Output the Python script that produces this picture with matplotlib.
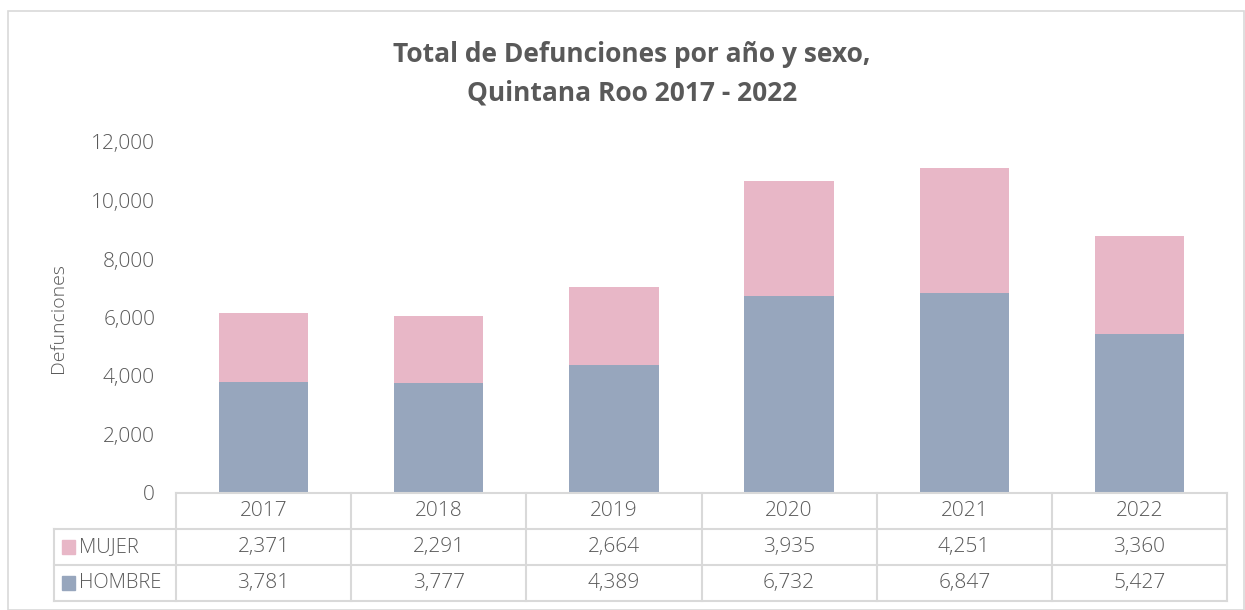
import matplotlib.pyplot as plt
from matplotlib.patches import Rectangle
from matplotlib.transforms import blended_transform_factory

years = ["2017", "2018", "2019", "2020", "2021", "2022"]
mujer = [2371, 2291, 2664, 3935, 4251, 3360]
hombre = [3781, 3777, 4389, 6732, 6847, 5427]
series = ["MUJER", "HOMBRE"]

c_mujer = "#E8B7C7"
c_hombre = "#97A6BD"
txt = "#595959"
line_c = "#D9D9D9"

plt.rcParams['font.family'] = ['Open Sans', 'DejaVu Sans']
fs = 15

W, H = 1245, 610
fig = plt.figure(figsize=(W / 100, H / 100), dpi=100)
# outer chart border
fig.patches.append(Rectangle((8 / W, 0), (W - 9) / W, (H - 11) / H, transform=fig.transFigure,
                             fill=False, edgecolor=line_c, lw=1.2))

left, right, top, bottom = 176, 1227, 142, 493
ax = fig.add_axes([left / W, 1 - bottom / H, (right - left) / W, (bottom - top) / H])

x = list(range(len(years)))
ax.bar(x, hombre, width=0.51, color=c_hombre)
ax.bar(x, mujer, bottom=hombre, width=0.51, color=c_mujer)

ax.set_xlim(-0.5, len(years) - 0.5)
ax.set_ylim(0, 12000)
ax.set_yticks(range(0, 12001, 2000))
ax.set_yticklabels([f"{v:,}" for v in range(0, 12001, 2000)], fontsize=fs, color=txt,
                   fontweight="light")
ax.tick_params(axis='y', length=0, pad=15)
ax.set_xticks([])
for s in ["top", "right", "left"]:
    ax.spines[s].set_visible(False)
ax.spines["bottom"].set_color(line_c)
ax.spines["bottom"].set_linewidth(1.5)

fig.text(58 / W, 1 - 318 / H, "Defunciones", rotation=90, ha="center", va="center",
         fontsize=14, color=txt, fontweight="light")

fig.text(632 / W, 1 - 55 / H, "Total de Defunciones por año y sexo,", ha="center", va="center",
         fontsize=19, fontweight="bold", color=txt)
fig.text(632 / W, 1 - 93 / H, "Quintana Roo 2017 - 2022", ha="center", va="center",
         fontsize=19, fontweight="bold", color=txt)

# data table under the chart
tr = blended_transform_factory(ax.transData, ax.transAxes)
row_h = 36 / (bottom - top)
leg_x = -0.5 - (left - 54) / ((right - left) / len(years))
n = len(years)
kw = dict(transform=tr, clip_on=False, color=line_c, lw=1.5)
for k in range(1, 4):
    y = -k * row_h
    ax.plot([leg_x, n - 0.5], [y, y], **kw)
for i in range(n + 1):
    ax.plot([i - 0.5, i - 0.5], [0, -3 * row_h], **kw)
ax.plot([leg_x, leg_x], [-row_h, -3 * row_h], **kw)

tkw = dict(transform=tr, ha="center", va="center", fontsize=fs, color=txt, fontweight="light")
for i, yr in enumerate(years):
    ax.text(i, -0.5 * row_h, yr, **tkw)
    ax.text(i, -1.5 * row_h, f"{mujer[i]:,}", **tkw)
    ax.text(i, -2.5 * row_h, f"{hombre[i]:,}", **tkw)

for r, (name, col) in enumerate(zip(series, [c_mujer, c_hombre])):
    yc = -(1.5 + r) * row_h
    ax.add_patch(Rectangle((leg_x + 0.045, yc - 0.02), 0.075, 0.04, transform=tr,
                           color=col, clip_on=False))
    ax.text(leg_x + 0.145, yc, name, transform=tr, ha="left", va="center", fontsize=fs - 0.5,
            color=txt, fontweight="light")

fig.savefig("out.png", dpi=100)
